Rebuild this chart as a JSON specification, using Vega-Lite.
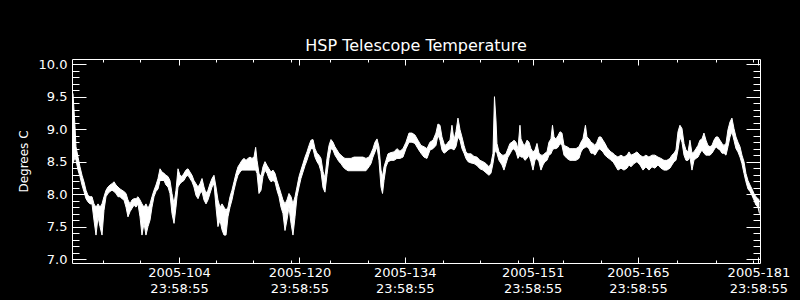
{
  "$schema": "https://vega.github.io/schema/vega-lite/v6.json",
  "width": 688,
  "height": 204,
  "autosize": {"type": "none"},
  "padding": {"left": 72, "top": 59, "right": 40, "bottom": 37},
  "background": "black",
  "title": {"text": "HSP Telescope Temperature", "color": "white", "font": "DejaVu Sans", "fontSize": 16, "fontWeight": "normal", "offset": 4},
  "config": {
    "view": {"stroke": "white", "strokeWidth": 1},
    "axis": {"domain": false, "grid": false, "tickColor": "white", "tickWidth": 1, "labelColor": "white", "labelFont": "DejaVu Sans", "labelFontSize": 13, "labelOverlap": false, "labelFlush": false, "labelBound": false, "titleColor": "white", "titleFont": "DejaVu Sans", "titleFontSize": 13, "titleFontWeight": "normal"}
  },
  "data": {"values": [
{"t":90.90,"lo":8.47,"hi":9.55},{"t":91.04,"lo":8.52,"hi":9.29},{"t":91.17,"lo":8.57,"hi":9.04},{"t":91.30,"lo":8.52,"hi":8.73},{"t":91.57,"lo":8.37,"hi":8.57},{"t":91.83,"lo":8.27,"hi":8.42},{"t":92.10,"lo":8.14,"hi":8.29},{"t":92.36,"lo":8.04,"hi":8.19},{"t":92.63,"lo":7.93,"hi":8.06},{"t":92.90,"lo":7.88,"hi":7.98},{"t":93.16,"lo":7.85,"hi":7.96},{"t":93.43,"lo":7.85,"hi":7.96},{"t":93.69,"lo":7.60,"hi":7.85},{"t":93.96,"lo":7.37,"hi":7.80},{"t":94.23,"lo":7.65,"hi":7.85},{"t":94.49,"lo":7.50,"hi":7.80},{"t":94.76,"lo":7.37,"hi":7.85},{"t":95.02,"lo":7.75,"hi":7.96},{"t":95.29,"lo":7.96,"hi":8.06},{"t":95.55,"lo":8.01,"hi":8.11},{"t":95.82,"lo":8.04,"hi":8.14},{"t":96.09,"lo":8.06,"hi":8.16},{"t":96.35,"lo":8.04,"hi":8.19},{"t":96.62,"lo":8.01,"hi":8.14},{"t":96.88,"lo":7.96,"hi":8.11},{"t":97.15,"lo":7.96,"hi":8.08},{"t":97.42,"lo":7.93,"hi":8.06},{"t":97.68,"lo":7.91,"hi":8.04},{"t":97.95,"lo":7.80,"hi":8.01},{"t":98.21,"lo":7.65,"hi":7.91},{"t":98.48,"lo":7.73,"hi":7.85},{"t":98.74,"lo":7.78,"hi":7.91},{"t":99.01,"lo":7.83,"hi":7.93},{"t":99.28,"lo":7.80,"hi":7.93},{"t":99.54,"lo":7.85,"hi":7.96},{"t":99.81,"lo":7.65,"hi":7.91},{"t":100.07,"lo":7.37,"hi":7.85},{"t":100.34,"lo":7.55,"hi":7.80},{"t":100.60,"lo":7.37,"hi":7.85},{"t":100.87,"lo":7.50,"hi":7.78},{"t":101.14,"lo":7.60,"hi":7.85},{"t":101.40,"lo":7.80,"hi":7.96},{"t":101.67,"lo":7.96,"hi":8.06},{"t":101.93,"lo":8.04,"hi":8.14},{"t":102.20,"lo":8.08,"hi":8.24},{"t":102.47,"lo":8.21,"hi":8.39},{"t":102.73,"lo":8.21,"hi":8.34},{"t":103.00,"lo":8.21,"hi":8.32},{"t":103.26,"lo":8.14,"hi":8.29},{"t":103.53,"lo":8.11,"hi":8.27},{"t":103.79,"lo":8.01,"hi":8.21},{"t":104.06,"lo":7.70,"hi":8.01},{"t":104.33,"lo":7.55,"hi":7.85},{"t":104.59,"lo":7.80,"hi":8.06},{"t":104.86,"lo":8.11,"hi":8.39},{"t":105.12,"lo":8.16,"hi":8.29},{"t":105.39,"lo":8.19,"hi":8.27},{"t":105.65,"lo":8.21,"hi":8.32},{"t":105.92,"lo":8.27,"hi":8.37},{"t":106.19,"lo":8.29,"hi":8.39},{"t":106.45,"lo":8.24,"hi":8.34},{"t":106.72,"lo":8.19,"hi":8.29},{"t":106.98,"lo":8.11,"hi":8.21},{"t":107.25,"lo":7.98,"hi":8.16},{"t":107.52,"lo":7.93,"hi":8.11},{"t":107.78,"lo":8.01,"hi":8.16},{"t":108.05,"lo":8.04,"hi":8.24},{"t":108.31,"lo":7.91,"hi":8.11},{"t":108.58,"lo":7.85,"hi":8.01},{"t":108.84,"lo":7.91,"hi":8.06},{"t":109.11,"lo":8.01,"hi":8.16},{"t":109.38,"lo":8.11,"hi":8.24},{"t":109.64,"lo":8.16,"hi":8.29},{"t":109.91,"lo":7.80,"hi":8.11},{"t":110.17,"lo":7.50,"hi":7.91},{"t":110.44,"lo":7.60,"hi":7.80},{"t":110.71,"lo":7.45,"hi":7.85},{"t":110.97,"lo":7.37,"hi":7.80},{"t":111.24,"lo":7.37,"hi":7.75},{"t":111.50,"lo":7.65,"hi":7.80},{"t":111.77,"lo":7.80,"hi":7.96},{"t":112.03,"lo":7.91,"hi":8.06},{"t":112.30,"lo":8.06,"hi":8.19},{"t":112.57,"lo":8.19,"hi":8.32},{"t":112.83,"lo":8.29,"hi":8.42},{"t":113.10,"lo":8.34,"hi":8.47},{"t":113.36,"lo":8.37,"hi":8.52},{"t":113.63,"lo":8.37,"hi":8.55},{"t":113.90,"lo":8.37,"hi":8.52},{"t":114.16,"lo":8.37,"hi":8.55},{"t":114.43,"lo":8.37,"hi":8.57},{"t":114.69,"lo":8.37,"hi":8.55},{"t":114.96,"lo":8.37,"hi":8.57},{"t":115.18,"lo":8.37,"hi":8.72},{"t":115.36,"lo":8.32,"hi":8.52},{"t":115.62,"lo":8.01,"hi":8.32},{"t":115.89,"lo":8.06,"hi":8.27},{"t":116.15,"lo":8.27,"hi":8.42},{"t":116.42,"lo":8.37,"hi":8.50},{"t":116.69,"lo":8.32,"hi":8.44},{"t":116.95,"lo":8.24,"hi":8.39},{"t":117.22,"lo":8.19,"hi":8.34},{"t":117.48,"lo":8.21,"hi":8.37},{"t":117.75,"lo":8.19,"hi":8.32},{"t":118.01,"lo":8.06,"hi":8.21},{"t":118.28,"lo":7.96,"hi":8.11},{"t":118.55,"lo":7.80,"hi":8.01},{"t":118.81,"lo":7.70,"hi":7.91},{"t":119.08,"lo":7.44,"hi":7.85},{"t":119.34,"lo":7.60,"hi":7.91},{"t":119.61,"lo":7.80,"hi":8.01},{"t":119.88,"lo":7.55,"hi":7.96},{"t":120.14,"lo":7.37,"hi":7.85},{"t":120.41,"lo":7.65,"hi":7.96},{"t":120.67,"lo":7.96,"hi":8.11},{"t":120.94,"lo":8.11,"hi":8.27},{"t":121.20,"lo":8.24,"hi":8.37},{"t":121.47,"lo":8.34,"hi":8.47},{"t":121.74,"lo":8.44,"hi":8.57},{"t":122.00,"lo":8.52,"hi":8.65},{"t":122.27,"lo":8.62,"hi":8.75},{"t":122.53,"lo":8.70,"hi":8.83},{"t":122.80,"lo":8.70,"hi":8.84},{"t":123.07,"lo":8.57,"hi":8.70},{"t":123.33,"lo":8.50,"hi":8.63},{"t":123.60,"lo":8.45,"hi":8.60},{"t":123.86,"lo":8.35,"hi":8.55},{"t":124.13,"lo":8.10,"hi":8.35},{"t":124.39,"lo":8.03,"hi":8.25},{"t":124.66,"lo":8.30,"hi":8.55},{"t":124.93,"lo":8.55,"hi":8.75},{"t":125.19,"lo":8.70,"hi":8.84},
{"t":125.46,"lo":8.68,"hi":8.80},{"t":125.72,"lo":8.60,"hi":8.73},{"t":125.99,"lo":8.55,"hi":8.68},{"t":126.25,"lo":8.50,"hi":8.63},{"t":126.52,"lo":8.47,"hi":8.60},{"t":126.79,"lo":8.42,"hi":8.57},{"t":127.05,"lo":8.39,"hi":8.55},{"t":127.45,"lo":8.36,"hi":8.55},{"t":127.85,"lo":8.36,"hi":8.55},{"t":128.25,"lo":8.36,"hi":8.57},{"t":128.65,"lo":8.36,"hi":8.57},{"t":129.05,"lo":8.36,"hi":8.57},{"t":129.44,"lo":8.36,"hi":8.57},{"t":129.84,"lo":8.36,"hi":8.55},{"t":130.24,"lo":8.42,"hi":8.57},{"t":130.51,"lo":8.47,"hi":8.63},{"t":130.77,"lo":8.57,"hi":8.70},{"t":131.04,"lo":8.65,"hi":8.80},{"t":131.31,"lo":8.73,"hi":8.85},{"t":131.57,"lo":8.52,"hi":8.73},{"t":131.84,"lo":8.11,"hi":8.37},{"t":132.04,"lo":8.01,"hi":8.27},{"t":132.24,"lo":8.21,"hi":8.42},{"t":132.50,"lo":8.42,"hi":8.52},{"t":132.77,"lo":8.50,"hi":8.62},{"t":133.17,"lo":8.52,"hi":8.64},{"t":133.57,"lo":8.52,"hi":8.65},{"t":133.96,"lo":8.55,"hi":8.70},{"t":134.36,"lo":8.55,"hi":8.66},{"t":134.76,"lo":8.57,"hi":8.70},{"t":135.16,"lo":8.70,"hi":8.80},{"t":135.56,"lo":8.80,"hi":8.94},{"t":135.96,"lo":8.80,"hi":8.94},{"t":136.35,"lo":8.78,"hi":8.91},{"t":136.75,"lo":8.70,"hi":8.83},{"t":137.15,"lo":8.63,"hi":8.75},{"t":137.55,"lo":8.57,"hi":8.73},{"t":137.95,"lo":8.55,"hi":8.70},{"t":138.35,"lo":8.68,"hi":8.80},{"t":138.75,"lo":8.70,"hi":8.83},{"t":139.14,"lo":8.75,"hi":8.94},{"t":139.41,"lo":8.91,"hi":9.08},{"t":139.68,"lo":8.83,"hi":9.06},{"t":139.94,"lo":8.68,"hi":8.88},{"t":140.21,"lo":8.63,"hi":8.78},{"t":140.47,"lo":8.65,"hi":8.75},{"t":140.74,"lo":8.68,"hi":8.80},{"t":141.01,"lo":8.70,"hi":8.83},{"t":141.27,"lo":8.70,"hi":9.06},{"t":141.54,"lo":8.68,"hi":8.83},{"t":141.80,"lo":8.73,"hi":8.96},{"t":142.07,"lo":8.88,"hi":9.17},{"t":142.34,"lo":8.83,"hi":8.99},{"t":142.60,"lo":8.70,"hi":8.88},{"t":142.87,"lo":8.63,"hi":8.75},{"t":143.13,"lo":8.55,"hi":8.65},{"t":143.40,"lo":8.50,"hi":8.62},{"t":143.80,"lo":8.48,"hi":8.62},{"t":144.20,"lo":8.47,"hi":8.58},{"t":144.59,"lo":8.44,"hi":8.57},{"t":144.99,"lo":8.39,"hi":8.52},{"t":145.39,"lo":8.37,"hi":8.50},{"t":145.79,"lo":8.33,"hi":8.47},{"t":146.19,"lo":8.29,"hi":8.42},{"t":146.45,"lo":8.32,"hi":8.47},{"t":146.72,"lo":8.47,"hi":8.63},{"t":146.92,"lo":8.63,"hi":9.50},{"t":147.12,"lo":8.68,"hi":9.14},{"t":147.25,"lo":8.63,"hi":8.78},{"t":147.52,"lo":8.52,"hi":8.65},{"t":147.92,"lo":8.45,"hi":8.60},{"t":148.18,"lo":8.37,"hi":8.60},{"t":148.45,"lo":8.47,"hi":8.62},{"t":148.71,"lo":8.57,"hi":8.70},{"t":148.98,"lo":8.62,"hi":8.78},{"t":149.25,"lo":8.68,"hi":8.80},{"t":149.51,"lo":8.70,"hi":8.83},{"t":149.78,"lo":8.65,"hi":8.80},{"t":150.04,"lo":8.55,"hi":8.70},{"t":150.31,"lo":8.60,"hi":9.06},{"t":150.44,"lo":8.57,"hi":8.85},{"t":150.71,"lo":8.57,"hi":8.78},{"t":150.97,"lo":8.52,"hi":8.75},{"t":151.24,"lo":8.55,"hi":8.83},{"t":151.51,"lo":8.60,"hi":8.80},{"t":151.77,"lo":8.50,"hi":8.70},{"t":152.04,"lo":8.37,"hi":8.65},{"t":152.30,"lo":8.52,"hi":8.68},{"t":152.57,"lo":8.55,"hi":8.78},{"t":152.83,"lo":8.50,"hi":8.63},{"t":153.10,"lo":8.37,"hi":8.60},{"t":153.37,"lo":8.45,"hi":8.60},{"t":153.63,"lo":8.50,"hi":8.63},{"t":153.90,"lo":8.52,"hi":8.65},{"t":154.16,"lo":8.60,"hi":8.80},{"t":154.43,"lo":8.62,"hi":8.85},{"t":154.63,"lo":8.68,"hi":9.06},{"t":154.83,"lo":8.70,"hi":8.88},{"t":155.09,"lo":8.70,"hi":8.85},{"t":155.36,"lo":8.72,"hi":8.90},{"t":155.63,"lo":8.78,"hi":8.96},{"t":155.89,"lo":8.75,"hi":8.94},{"t":156.16,"lo":8.60,"hi":8.75},{"t":156.56,"lo":8.55,"hi":8.73},{"t":156.95,"lo":8.52,"hi":8.70},{"t":157.35,"lo":8.52,"hi":8.70},{"t":157.75,"lo":8.52,"hi":8.70},{"t":158.15,"lo":8.55,"hi":8.73},{"t":158.42,"lo":8.65,"hi":8.80},{"t":158.68,"lo":8.70,"hi":8.85},{"t":159.01,"lo":8.72,"hi":9.06},{"t":159.21,"lo":8.73,"hi":8.88},{"t":159.48,"lo":8.70,"hi":8.85},{"t":159.75,"lo":8.63,"hi":8.80},{"t":160.01,"lo":8.63,"hi":8.78},{"t":160.28,"lo":8.60,"hi":8.75},{"t":160.54,"lo":8.65,"hi":8.80},{"t":160.81,"lo":8.70,"hi":8.88},{"t":161.07,"lo":8.68,"hi":8.88},{"t":161.34,"lo":8.65,"hi":8.83},{"t":161.61,"lo":8.60,"hi":8.78},{"t":161.87,"lo":8.57,"hi":8.72},{"t":162.14,"lo":8.55,"hi":8.68},{"t":162.40,"lo":8.52,"hi":8.65},{"t":162.67,"lo":8.50,"hi":8.63},{"t":162.93,"lo":8.45,"hi":8.60},{"t":163.33,"lo":8.37,"hi":8.57},{"t":163.73,"lo":8.40,"hi":8.60},{"t":164.13,"lo":8.37,"hi":8.57},{"t":164.53,"lo":8.40,"hi":8.60},{"t":164.80,"lo":8.45,"hi":8.65},{"t":165.06,"lo":8.42,"hi":8.60},{"t":165.46,"lo":8.47,"hi":8.62},{"t":165.86,"lo":8.50,"hi":8.65},{"t":166.26,"lo":8.45,"hi":8.60},{"t":166.66,"lo":8.37,"hi":8.57},{"t":167.05,"lo":8.42,"hi":8.60},{"t":167.45,"lo":8.37,"hi":8.57},{"t":167.85,"lo":8.42,"hi":8.60},{"t":168.25,"lo":8.40,"hi":8.60},{"t":168.65,"lo":8.45,"hi":8.57},{"t":169.05,"lo":8.40,"hi":8.55},{"t":169.45,"lo":8.37,"hi":8.52},{"t":169.84,"lo":8.37,"hi":8.52},{"t":170.24,"lo":8.40,"hi":8.55},{"t":170.51,"lo":8.45,"hi":8.60},{"t":170.78,"lo":8.50,"hi":8.63},{"t":171.04,"lo":8.52,"hi":8.68},{"t":171.31,"lo":8.68,"hi":8.96},{"t":171.57,"lo":8.88,"hi":9.06},{"t":171.84,"lo":8.80,"hi":9.01},{"t":172.11,"lo":8.60,"hi":8.78},{"t":172.37,"lo":8.52,"hi":8.68},{"t":172.64,"lo":8.52,"hi":8.65},{"t":172.90,"lo":8.57,"hi":8.83},{"t":173.17,"lo":8.37,"hi":8.63},{"t":173.43,"lo":8.52,"hi":8.65},{"t":173.70,"lo":8.55,"hi":8.70},{"t":173.97,"lo":8.57,"hi":8.75},{"t":174.23,"lo":8.63,"hi":8.83},{"t":174.50,"lo":8.68,"hi":8.85},{"t":174.76,"lo":8.63,"hi":8.94},{"t":175.03,"lo":8.60,"hi":8.83},{"t":175.29,"lo":8.60,"hi":8.75},{"t":175.56,"lo":8.60,"hi":8.73},{"t":175.83,"lo":8.63,"hi":8.75},{"t":176.09,"lo":8.68,"hi":8.83},{"t":176.36,"lo":8.73,"hi":8.88},{"t":176.62,"lo":8.70,"hi":8.88},{"t":176.89,"lo":8.68,"hi":8.83},{"t":177.16,"lo":8.63,"hi":8.78},{"t":177.42,"lo":8.63,"hi":8.75},{"t":177.69,"lo":8.60,"hi":8.78},{"t":177.95,"lo":8.73,"hi":8.99},{"t":178.22,"lo":8.88,"hi":9.11},{"t":178.48,"lo":8.96,"hi":9.17},{"t":178.75,"lo":8.83,"hi":9.01},{"t":179.02,"lo":8.70,"hi":8.88},{"t":179.28,"lo":8.65,"hi":8.80},{"t":179.55,"lo":8.57,"hi":8.73},{"t":179.81,"lo":8.47,"hi":8.60},{"t":180.08,"lo":8.32,"hi":8.50},{"t":180.34,"lo":8.19,"hi":8.32},{"t":180.61,"lo":8.08,"hi":8.21},{"t":180.88,"lo":8.04,"hi":8.14},{"t":181.14,"lo":7.98,"hi":8.08},{"t":181.41,"lo":7.91,"hi":8.01},{"t":181.67,"lo":7.83,"hi":7.96},{"t":181.94,"lo":7.80,"hi":7.93},{"t":182.14,"lo":7.70,"hi":7.91}
  ]},
  "resolve": {"axis": {"x": "independent", "y": "independent"}},
  "layer": [
    {
      "mark": {"type": "area", "color": "white", "opacity": 1},
      "encoding": {
        "x": {"field": "t", "type": "quantitative", "scale": {"domain": [90.77, 182.21], "nice": false, "zero": false},
          "axis": {"orient": "bottom", "title": null,
            "values": [94.85, 99.85, 104.9992, 109.95, 114.87, 119.88, 120.9992, 125.0, 130.07, 134.9992, 140.04, 145.04, 150.1, 151.9992, 156.07, 161.1, 165.9992, 171.2, 176.3, 181.25, 181.9992],
            "tickSize": {"condition": {"test": "datum.value % 1 > 0.99", "value": -6}, "value": -3},
            "labelPadding": 9, "labelLineHeight": 16, "labelAlign": "center", "labelBaseline": "top",
            "labelExpr": "datum.value % 1 > 0.99 ? ['2005-' + format(floor(datum.value), '03d'), '23:58:55'] : ''"}},
        "y": {"field": "lo", "type": "quantitative", "scale": {"domain": [6.94, 10.08], "nice": false, "zero": false},
          "axis": {"orient": "left", "title": "Degrees C",
            "values": [7.0,7.1,7.2,7.3,7.4,7.5,7.6,7.7,7.8,7.9,8.0,8.1,8.2,8.3,8.4,8.5,8.6,8.7,8.8,8.9,9.0,9.1,9.2,9.3,9.4,9.5,9.6,9.7,9.8,9.9,10.0],
            "tickSize": {"condition": {"test": "abs(datum.value*2 - round(datum.value*2)) < 0.001", "value": -14}, "value": -7},
            "labelPadding": 19,
            "labelExpr": "abs(datum.value*2 - round(datum.value*2)) < 0.001 ? format(datum.value, '.1f') : ''",
            "titleX": -49, "titleY": 102, "titleAngle": -90, "titleAlign": "center", "titleBaseline": "middle", "titleFontSize": 12}},
        "y2": {"field": "hi"}
      }
    },
    {
      "mark": {"type": "line", "color": "white", "strokeWidth": 1},
      "encoding": {
        "x": {"field": "t", "type": "quantitative",
          "axis": {"orient": "top", "title": null, "labels": false,
            "values": [94.85, 99.85, 104.9992, 109.95, 114.87, 119.88, 120.9992, 125.0, 130.07, 134.9992, 140.04, 145.04, 150.1, 151.9992, 156.07, 161.1, 165.9992, 171.2, 176.3, 181.25, 181.9992],
            "tickSize": {"condition": {"test": "datum.value % 1 > 0.99", "value": -6}, "value": -3}}},
        "y": {"field": "hi", "type": "quantitative",
          "axis": {"orient": "right", "title": null, "labels": false,
            "values": [7.0,7.1,7.2,7.3,7.4,7.5,7.6,7.7,7.8,7.9,8.0,8.1,8.2,8.3,8.4,8.5,8.6,8.7,8.8,8.9,9.0,9.1,9.2,9.3,9.4,9.5,9.6,9.7,9.8,9.9,10.0],
            "tickSize": {"condition": {"test": "abs(datum.value*2 - round(datum.value*2)) < 0.001", "value": -14}, "value": -7}}}
      }
    },
    {
      "mark": {"type": "line", "color": "white", "strokeWidth": 1},
      "encoding": {
        "x": {"field": "t", "type": "quantitative", "axis": null},
        "y": {"field": "lo", "type": "quantitative", "axis": null}
      }
    }
  ]
}
